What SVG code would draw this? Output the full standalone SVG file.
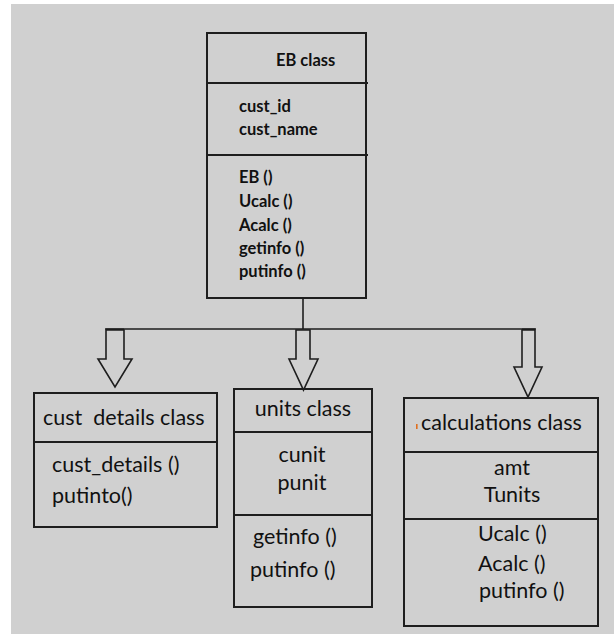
<svg xmlns="http://www.w3.org/2000/svg" width="614" height="634" viewBox="0 0 614 634">
  <style>
    .box { fill: none; stroke: #1e1e1e; stroke-width: 2; }
    .div { stroke: #1e1e1e; stroke-width: 2; }
    .wire { fill: none; stroke: #1e1e1e; stroke-width: 1.6; }
    .arrow { fill: #d0d0d0; stroke: #1e1e1e; stroke-width: 1.6; stroke-linejoin: miter; }
    .eb { font-family: Lato, "Liberation Sans", sans-serif; font-weight: bold; font-size: 16.5px; fill: #111; }
    .t { font-family: Lato, "Liberation Sans", sans-serif; font-size: 21.5px; fill: #111; }
    .c { text-anchor: middle; }
  </style>

  <rect x="0" y="0" width="614" height="634" fill="#ffffff"/>
  <rect x="11" y="4" width="603" height="630" fill="#d0d0d0"/>

  <!-- inheritance connectors -->
  <g id="connectors">
    <line class="wire" x1="303" y1="298" x2="303" y2="329"/>
    <line class="wire" x1="105" y1="329" x2="536" y2="329"/>
    <line x1="106" y1="330" x2="124" y2="330" stroke="#1e1e1e" stroke-width="3"/>
    <line x1="522" y1="330" x2="535" y2="330" stroke="#1e1e1e" stroke-width="3"/>
    <polygon class="arrow" points="106,330 106,359 98,359 115,387 132,359 124,359 124,330"/>
    <polygon class="arrow" points="296,330 296,359 289,359 303.5,390 318,359 310,359 310,330"/>
    <polygon class="arrow" points="522,330 522,367 514,367 528,397 542,367 535,367 535,330"/>
  </g>

  <!-- base class -->
  <g id="eb-class">
    <rect class="box" x="207" y="33" width="159" height="265"/>
    <line class="div" x1="207" y1="83" x2="368" y2="83"/>
    <line class="div" x1="207" y1="155" x2="368" y2="155"/>
    <text class="eb" x="276" y="66">EB class</text>
    <text class="eb" x="239" y="112">cust_id</text>
    <text class="eb" x="239" y="135">cust_name</text>
    <text class="eb" x="239" y="183">EB ()</text>
    <text class="eb" x="239" y="207">Ucalc ()</text>
    <text class="eb" x="239" y="231">Acalc ()</text>
    <text class="eb" x="239" y="254">getinfo ()</text>
    <text class="eb" x="239" y="277">putinfo ()</text>
  </g>

  <!-- derived: customer details -->
  <g id="cust-details-class">
    <rect class="box" x="34" y="393" width="183" height="134"/>
    <line class="div" x1="33" y1="442" x2="218" y2="442"/>
    <text class="t" x="43" y="425" xml:space="preserve">cust  details class</text>
    <text class="t" x="52" y="472">cust_details ()</text>
    <text class="t" x="52" y="503">putinto()</text>
  </g>

  <!-- derived: units -->
  <g id="units-class">
    <rect class="box" x="234" y="389" width="138" height="218"/>
    <line class="div" x1="234" y1="432" x2="373" y2="432"/>
    <line class="div" x1="234" y1="515" x2="373" y2="515"/>
    <text class="t c" x="303" y="416">units class</text>
    <text class="t c" x="302" y="462">cunit</text>
    <text class="t c" x="302" y="490">punit</text>
    <text class="t" x="253" y="544">getinfo ()</text>
    <text class="t" x="250" y="577">putinfo ()</text>
  </g>

  <!-- derived: calculations -->
  <g id="calculations-class">
    <rect class="box" x="404" y="398" width="194" height="228"/>
    <line class="div" x1="404" y1="452" x2="598" y2="452"/>
    <line class="div" x1="404" y1="519" x2="598" y2="519"/>
    <rect x="416" y="424" width="1.6" height="5" fill="#e07020"/>
    <text class="t" x="421" y="430">calculations class</text>
    <text class="t c" x="512" y="475">amt</text>
    <text class="t c" x="512" y="502">Tunits</text>
    <text class="t" x="478" y="541">Ucalc ()</text>
    <text class="t" x="478" y="571">Acalc ()</text>
    <text class="t" x="479" y="598">putinfo ()</text>
  </g>
</svg>
